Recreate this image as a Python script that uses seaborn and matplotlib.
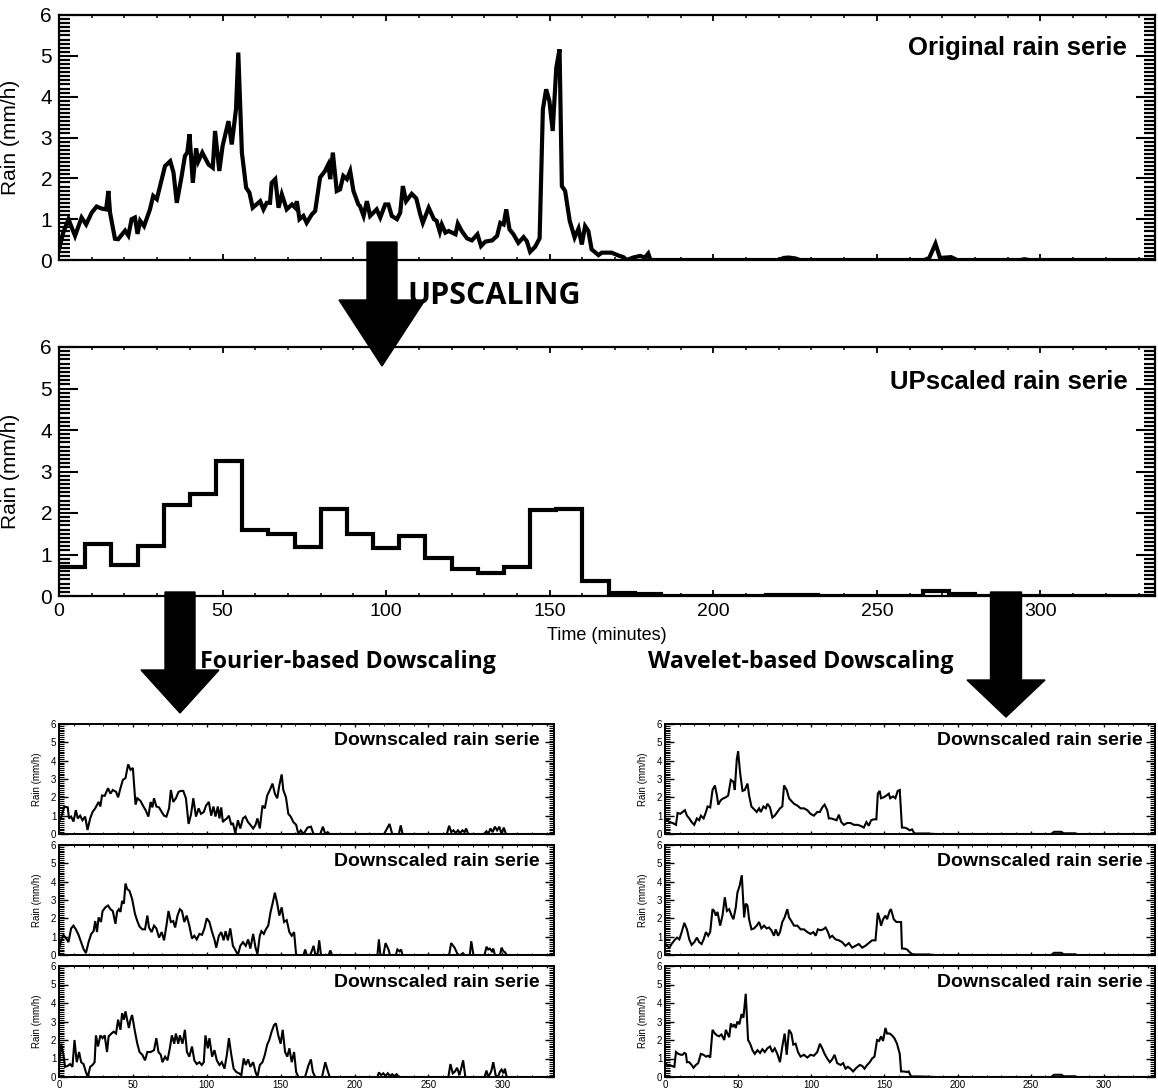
import numpy as np
import matplotlib
matplotlib.use("Agg")
import matplotlib.pyplot as plt
import seaborn as sns
from matplotlib.patches import Polygon
from matplotlib.ticker import MultipleLocator

# ---------------- data ----------------
orig_t = [0, 1.3, 2.9, 4.9, 6.9, 8.3, 10, 11.5, 13, 14.4, 15.1, 15.6, 17.1, 18.1, 20.2, 21.2, 22.2, 23.2, 24, 24.8,
          26, 27.8, 28.8, 29.9, 30.9, 32.4, 34, 35, 36, 37.5, 38.5, 39.2, 39.9, 40.9, 41.9, 42.6, 43.8, 45.7, 47, 47.7,
          49, 50, 51.8, 52.8, 54.1, 54.8, 55.9, 57.2, 58.2, 59.2, 61.5, 62.5, 63.5, 64.5, 65, 66.1, 67.1, 68.1, 69.6, 71.2,
          72.2, 72.7, 73.5, 74.7, 75.7, 77.3, 78.3, 79.8, 81.3, 82.3, 82.9, 83.7, 84.9, 85.9, 86.9, 88, 89, 90, 91.5, 92,
          93.1, 94.1, 95.1, 97.1, 98.2, 99.7, 100.7, 101.7, 103.3, 104.3, 105.1, 106.1, 107.8, 109.2, 110.4, 111.2, 113, 114.6, 115.4, 116.4,
          117, 118.1, 119.1, 121.2, 121.9, 123.1, 124.7, 126.2, 127.9, 129, 130.3, 132.4, 133.9, 134.9, 135.9, 136.7, 137.7, 138.9, 140.4, 142,
          143, 144, 145.5, 146.9, 147.9, 148.9, 149.9, 150.9, 152, 153, 153.7, 154.7, 156.1, 157.6, 158.8, 159.8, 160.8, 161.8, 162.8, 164.9,
          165.9, 168.9, 171, 172.5, 173.5, 175.5, 177.6, 179.1, 180.1, 180.8, 220, 221.5, 223, 225, 226.5, 264.5, 266, 267.9, 269.3, 271,
          272.7, 274.5, 294, 295, 296.5, 335]
orig_v = [0.26, 0.67, 1.0, 0.59, 1.04, 0.87, 1.16, 1.31, 1.26, 1.24, 1.69, 1.16, 0.52, 0.51, 0.72, 0.6, 1.0, 1.04, 0.64, 0.96,
          0.83, 1.24, 1.57, 1.49, 1.81, 2.3, 2.42, 2.14, 1.40, 2.06, 2.55, 2.63, 3.08, 1.89, 2.73, 2.42, 2.63, 2.34, 2.26, 3.16,
          2.18, 2.79, 3.40, 2.83, 3.69, 5.08, 2.63, 1.77, 1.65, 1.28, 1.44, 1.24, 1.40, 1.40, 1.89, 1.98, 1.28, 1.61, 1.24, 1.36,
          1.28, 1.44, 1.0, 1.08, 0.91, 1.12, 1.20, 2.02, 2.18, 2.34, 1.98, 2.63, 1.69, 1.73, 2.06, 1.98, 2.18, 1.69, 1.36, 1.32,
          1.08, 1.44, 1.08, 1.24, 1.04, 1.36, 1.36, 1.08, 1.0, 1.16, 1.81, 1.44, 1.62, 1.51, 1.12, 0.91, 1.28, 1.0, 0.96, 0.69,
          0.87, 0.67, 0.71, 0.63, 0.89, 0.71, 0.53, 0.48, 0.63, 0.34, 0.45, 0.48, 0.59, 0.91, 0.87, 1.24, 0.75, 0.63, 0.42, 0.56,
          0.46, 0.20, 0.32, 0.53, 3.69, 4.18, 3.89, 3.16, 4.71, 5.16, 1.81, 1.69, 0.96, 0.55, 0.77, 0.38, 0.83, 0.71, 0.26, 0.12,
          0.18, 0.18, 0.11, 0.07, 0.0, 0.06, 0.10, 0.06, 0.16, 0.0, 0.0, 0.05, 0.06, 0.04, 0.0, 0.0, 0.05, 0.40, 0.05, 0.06,
          0.07, 0.0, 0.0, 0.02, 0.0, 0.0]

up_start = [0, 8, 16, 24, 32, 40, 48, 56, 64, 72, 80, 88, 96, 104, 112, 120, 128, 136, 144, 152,
            160, 168, 176, 184, 216, 232, 264, 272, 280]
up_val = [0.70, 1.25, 0.74, 1.21, 2.19, 2.46, 3.26, 1.59, 1.50, 1.19, 2.10, 1.50, 1.15, 1.44, 0.92, 0.66, 0.55, 0.71, 2.07, 2.10,
          0.37, 0.08, 0.06, 0.0, 0.02, 0.0, 0.12, 0.04, 0.0]

f1_t = [0, 1.8, 3.6, 5.9, 6.8, 8.2, 9.8, 11.4, 12.7, 14.3, 15.9, 17.7, 19.3, 21.1, 22.7, 24.5, 26.8, 28, 29.1, 30.9,
        33.2, 34.8, 36.4, 38.6, 40, 41.6, 43.2, 45, 46.8, 48.4, 50, 51.8, 53, 55.2, 56.8, 58.6, 60.5, 62, 63.2, 64.3,
        65.9, 67.7, 69.5, 71.1, 72.7, 74.5, 75.7, 77.3, 79.1, 80.9, 82.5, 84.1, 85.9, 87.7, 89.3, 90.9, 92.7, 94.5, 96.1, 98,
        99.5, 101.4, 103, 104.5, 105.9, 107.5, 108.6, 109.8, 110.9, 112, 113.6, 115, 116.6, 117.7, 119.3, 121.1, 122.7, 124.5, 126.1, 127.9,
        129.5, 131.4, 133, 134.3, 135.9, 137.7, 139.3, 140.9, 142.7, 144.5, 146.1, 147.7, 149.1, 150.7, 151.8, 153.6, 155.2, 156.8, 158.6, 160.5,
        162, 163.6, 165.5, 168.2, 170.5, 172.3, 176.8, 178.6, 180.2, 181.8, 183.2, 220, 222, 223.7, 225.5, 230, 231.3, 232.5, 262.5, 264,
        265.5, 267, 268.5, 270, 271.5, 273, 274.5, 275.5, 277, 287.5, 289.3, 290.5, 292, 293.5, 295, 296.5, 298, 299.5, 301, 302.5, 335]
f1_v = [0.68, 1.0, 1.5, 1.45, 0.85, 0.95, 0.68, 1.3, 0.85, 1.0, 0.75, 0.95, 0.22, 0.85, 1.2, 1.4, 1.75, 1.5, 2.1, 2.08,
        2.5, 2.2, 2.4, 2.3, 2.0, 2.5, 2.95, 3.05, 3.8, 3.5, 3.6, 1.6, 1.95, 1.8, 1.55, 1.3, 0.95, 1.75, 1.45, 1.95,
        1.5, 1.45, 1.2, 1.0, 0.95, 1.4, 2.4, 1.75, 1.95, 2.3, 2.35, 2.35, 1.95, 0.55, 1.05, 1.95, 0.95, 1.4, 1.1, 1.2,
        1.55, 1.75, 1.0, 1.5, 0.95, 1.5, 0.85, 1.45, 0.65, 0.75, 0.85, 1.0, 0.5, 0.6, 0.05, 0.75, 0.3, 0.85, 0.95, 0.65,
        0.5, 0.3, 0.5, 0.85, 0.3, 1.55, 1.4, 2.1, 2.4, 2.75, 2.2, 1.95, 2.65, 3.25, 2.4, 2.0, 1.1, 0.95, 0.65, 0.5,
        0.0, 0.2, 0.0, 0.35, 0.4, 0.0, 0.0, 0.4, 0.0, 0.1, 0.0, 0.0, 0.3, 0.55, 0.0, 0.0, 0.47, 0.0, 0.0, 0.45,
        0.1, 0.2, 0.05, 0.2, 0.05, 0.2, 0.1, 0.3, 0.0, 0.0, 0.15, 0.0, 0.3, 0.1, 0.4, 0.2, 0.4, 0.0, 0.35, 0.0, 0.0]

f2_t = [0, 1.4, 3, 4.5, 6.4, 8.2, 9.8, 11.4, 13.2, 15, 16.6, 18.2, 20, 21.8, 23.4, 24.5, 25.7, 26.8, 28.4, 29.5,
        31.4, 33.2, 34.8, 36.4, 38.2, 39.3, 40.5, 41.6, 42.7, 43.9, 45, 46.1, 47.7, 49.5, 51.4, 53, 54.5, 56.4, 58.2, 59.8,
        60.9, 62.7, 64.3, 65.9, 67.7, 69.5, 71.1, 72.7, 74.1, 75.7, 77.3, 78.6, 80.2, 81.8, 83.2, 84.8, 86.4, 88.2, 90, 91.6,
        93.2, 95, 96.8, 98.4, 100, 101.8, 103.6, 105.2, 106.4, 108.2, 109.8, 111.4, 112.7, 114.3, 115.9, 117.7, 119.5, 121.1, 122.7, 124.5,
        126.4, 128, 129.5, 131.4, 133, 134.3, 135.9, 137, 138.6, 140, 141.6, 143.2, 144.5, 146.1, 147.7, 149.1, 150.7, 152.3, 154.1, 155.9,
        157.5, 159.1, 160.5, 165.5, 166.6, 167.7, 170, 171.2, 172.3, 173.4, 175, 176.1, 177.3, 182.5, 183.6, 184.8, 215.5, 216.5, 217.5, 219.5,
        221, 223, 224, 228, 229, 230.5, 231.5, 232.5, 264, 265.4, 267.7, 270, 271.5, 273.4, 274.5, 278, 279, 280.5, 288, 289.3,
        290.5, 291.5, 293, 293.9, 295, 298.5, 299.5, 300.8, 301.8, 303, 335]
f2_v = [0.33, 0.8, 1.1, 0.95, 0.7, 1.45, 1.6, 1.4, 1.1, 0.7, 0.33, 0.1, 0.7, 1.15, 1.3, 1.85, 1.25, 2.05, 1.8, 2.4,
        2.6, 2.7, 2.5, 2.4, 1.7, 2.35, 2.5, 2.35, 2.95, 2.8, 3.9, 3.6, 3.5, 3.05, 2.25, 1.85, 1.55, 1.4, 1.4, 2.15,
        1.5, 1.25, 1.6, 1.45, 0.95, 1.25, 0.8, 1.6, 2.4, 1.8, 1.85, 1.5, 2.15, 2.5, 2.4, 1.8, 2.15, 1.6, 0.9, 1.05,
        0.85, 1.15, 1.1, 1.45, 2.0, 1.8, 1.25, 0.85, 0.4, 1.05, 1.25, 0.8, 1.3, 0.8, 1.45, 0.5, 0.25, 0.0, 0.5, 0.7,
        0.5, 0.85, 0.35, 1.15, 0.4, 0.05, 1.05, 1.3, 1.15, 1.4, 1.6, 2.35, 2.8, 3.4, 2.8, 2.15, 2.6, 1.8, 1.9, 1.25,
        1.05, 1.25, 0.0, 0.0, 0.3, 0.0, 0.0, 0.25, 0.5, 0.05, 0.05, 0.8, 0.0, 0.0, 0.25, 0.0, 0.0, 0.85, 0.0, 0.0,
        0.65, 0.3, 0.0, 0.0, 0.3, 0.2, 0.3, 0.0, 0.0, 0.65, 0.4, 0.0, 0.0, 0.1, 0.0, 0.0, 0.75, 0.0, 0.0, 0.45,
        0.3, 0.35, 0.2, 0.35, 0.0, 0.0, 0.4, 0.2, 0.15, 0.0, 0.0]

f3_t = [0, 1.4, 3, 4.1, 5.9, 7.5, 9.1, 10.5, 12, 13.6, 15, 16.6, 18.2, 19.5, 21.1, 22.7, 24.1, 25, 26.4, 28,
        29.5, 30.9, 32.5, 33.6, 35.5, 37, 38.6, 40, 41.6, 42.7, 43.9, 45, 46.1, 47.3, 48.4, 49.5, 51.4, 53, 54.5, 56.4,
        58.2, 59.8, 62, 64.3, 65.9, 67.3, 68.9, 70, 71.8, 73.4, 75, 76.4, 78, 79.1, 80.7, 81.8, 83.6, 85.2, 86.6, 88.2,
        90, 91.6, 93.2, 95, 96.6, 98, 99.1, 100.7, 101.8, 103.6, 105.2, 106.8, 108.6, 110.2, 112, 113.6, 115, 116.6, 118.2, 120,
        121.8, 123.4, 125, 126.4, 128, 129.5, 131.4, 133, 134.3, 135.9, 137.7, 139.3, 140.9, 142.3, 143.9, 145.5, 146.8, 148.4, 150, 151.4,
        153, 154.5, 155.9, 157.5, 159.1, 160.5, 162, 166.5, 168.9, 170.5, 171.8, 173.4, 178, 180.2, 181.8, 183.2, 215.5, 216.5, 218, 219.5,
        221, 222.5, 224, 225.5, 227, 228.5, 230, 263.5, 264.9, 266.5, 268, 269.4, 271, 272.3, 273.5, 275, 288, 289.3, 290.5, 292.5,
        293.9, 295.5, 297, 298.5, 299.5, 300.8, 301.8, 303, 335]
f3_v = [0.55, 1.8, 1.2, 0.55, 0.6, 0.7, 0.55, 2.0, 0.8, 1.35, 0.8, 0.7, 0.27, 0.0, 0.55, 0.65, 0.8, 2.25, 1.65, 2.25,
        2.1, 2.25, 1.35, 2.2, 2.35, 2.45, 2.35, 3.1, 2.55, 3.45, 3.1, 3.55, 3.1, 2.65, 3.1, 3.35, 2.45, 1.8, 1.35, 1.2,
        0.9, 1.35, 1.35, 1.45, 2.1, 1.35, 1.2, 0.8, 1.1, 0.9, 1.55, 2.25, 1.8, 2.35, 1.8, 2.25, 1.8, 2.55, 1.35, 1.1,
        1.65, 0.9, 0.7, 0.8, 0.65, 0.8, 2.25, 1.55, 2.1, 1.1, 1.45, 0.9, 0.65, 0.8, 0.45, 1.2, 2.1, 1.2, 0.45, 0.27,
        0.2, 0.1, 1.0, 0.65, 0.95, 0.55, 0.8, 0.27, 0.0, 0.65, 0.8, 1.2, 1.75, 2.0, 2.45, 2.8, 2.9, 2.25, 1.8, 2.55,
        1.35, 1.1, 1.55, 0.8, 1.35, 0.27, 0.0, 0.0, 0.65, 0.95, 0.27, 0.0, 0.0, 0.8, 0.35, 0.0, 0.0, 0.25, 0.1, 0.2,
        0.05, 0.2, 0.05, 0.15, 0.05, 0.15, 0.0, 0.0, 0.7, 0.2, 0.3, 0.5, 0.1, 0.5, 0.9, 0.0, 0.0, 0.35, 0.0, 0.3,
        0.8, 0.1, 0.0, 0.3, 0.4, 0.2, 0.45, 0.0, 0.0]

w1_t = [0, 1.4, 3, 5.2, 7.5, 8.6, 10.5, 12, 13.6, 15, 16.6, 18.2, 20, 21.8, 23.4, 24.5, 26.4, 28, 29.1, 30.9,
        32.5, 34.1, 35.5, 36.4, 38.2, 40, 41.6, 43.2, 45, 46.8, 47.7, 49.1, 50, 51.4, 53, 54.5, 56.4, 57.5, 59.1, 60.9,
        62.7, 64.3, 65.5, 67.3, 68.9, 70, 71.8, 73.4, 75, 76.8, 78.6, 80.2, 81.4, 83.2, 84.8, 86.4, 88.2, 90.5, 92.7, 95,
        97.3, 99.5, 101.8, 104.1, 105.9, 107.5, 109.1, 110.9, 112, 113.6, 115.5, 117.3, 118.9, 120.5, 122.3, 124.5, 126.8, 129.1, 131.4, 133.6,
        135.9, 137.7, 139.3, 140.9, 142.7, 144.5, 145.5, 146.8, 147.7, 149.5, 151.4, 153, 154, 155.9, 157.5, 159.1, 160.5, 162, 163.6, 165.5,
        167.3, 168.9, 170.5, 174.5, 179, 184.8, 264, 266, 271, 272.5, 280, 282, 335]
w1_v = [0.8, 0.75, 0.65, 0.6, 0.5, 1.15, 1.1, 1.2, 1.3, 1.0, 0.85, 0.65, 0.5, 0.85, 0.75, 1.0, 0.85, 1.2, 1.5, 1.45,
        2.4, 2.65, 2.1, 1.6, 1.85, 1.95, 2.0, 2.1, 2.95, 2.85, 2.4, 4.1, 4.5, 3.3, 2.35, 2.4, 2.75, 2.1, 1.5, 1.35,
        1.2, 1.4, 1.2, 1.5, 1.4, 1.65, 1.45, 0.9, 1.0, 1.2, 1.4, 1.5, 2.65, 2.4, 1.95, 1.8, 1.65, 1.55, 1.4, 1.4,
        1.3, 1.1, 1.0, 1.2, 1.2, 1.45, 1.6, 1.3, 0.85, 0.85, 0.8, 0.75, 1.05, 0.65, 0.5, 0.6, 0.6, 0.5, 0.5, 0.45,
        0.35, 0.65, 0.45, 0.75, 0.8, 0.8, 2.2, 2.35, 1.95, 2.0, 2.1, 2.2, 1.95, 2.05, 1.95, 2.35, 2.4, 0.35, 0.35, 0.3,
        0.2, 0.25, 0.03, 0.03, 0.03, 0.0, 0.0, 0.12, 0.12, 0.04, 0.04, 0.0, 0.0]

w2_t = [0, 1.4, 3, 4.5, 6.4, 8.2, 9.8, 11.4, 13.2, 15, 16.6, 18.2, 20, 21.8, 23.4, 25, 26.4, 28, 29.5, 30.9,
        32.5, 33.6, 34.8, 35.9, 37.7, 39.3, 40.9, 42.3, 43.9, 45.5, 46.8, 48.4, 49.5, 51.1, 52.5, 54.1, 55.2, 56.4, 57.5, 59.1,
        60.9, 62.7, 64.3, 65.9, 67.7, 69.5, 71.1, 72.7, 74.5, 75.7, 77.3, 78.6, 80.2, 81.8, 83.6, 84.8, 86.4, 88.2, 90.5, 92.7,
        95, 97.3, 99.5, 101.4, 103, 104.5, 106.4, 108.2, 109.8, 111.4, 112.7, 114.3, 116.6, 118.9, 121.1, 123.4, 125.7, 128, 130.2, 132.5,
        134.8, 137, 139.3, 141.6, 143.9, 145.5, 146.8, 147.7, 149.1, 150.7, 151.8, 153.6, 154.5, 156.4, 158.2, 159.8, 161.4, 162, 163.6, 165.5,
        167.3, 168.9, 170.5, 180, 184.8, 264, 266, 271, 272.5, 280, 282, 335]
w2_v = [0.65, 0.5, 0.4, 0.6, 0.8, 0.95, 0.85, 1.25, 1.75, 1.4, 0.85, 0.55, 0.7, 0.95, 0.7, 0.6, 0.85, 1.25, 1.05, 1.25,
        2.5, 2.4, 2.15, 2.35, 1.6, 2.15, 3.15, 2.4, 2.5, 2.15, 1.95, 2.6, 3.4, 3.8, 4.35, 2.05, 2.8, 2.7, 1.95, 1.4,
        1.45, 1.6, 1.8, 1.45, 1.6, 1.45, 1.5, 1.35, 1.05, 1.4, 1.05, 1.25, 1.8, 2.05, 2.5, 2.05, 1.85, 1.6, 1.6, 1.4,
        1.4, 1.25, 1.15, 1.25, 1.05, 1.4, 1.35, 1.4, 1.5, 1.25, 0.95, 1.05, 0.85, 0.8, 0.7, 0.5, 0.65, 0.4, 0.5, 0.6,
        0.4, 0.5, 0.65, 0.8, 0.8, 2.3, 1.95, 1.6, 1.95, 2.15, 1.95, 2.4, 2.5, 1.95, 1.8, 1.8, 1.8, 0.35, 0.35, 0.3,
        0.15, 0.05, 0.03, 0.03, 0.0, 0.0, 0.12, 0.12, 0.04, 0.04, 0.0, 0.0]

w3_t = [0, 1.4, 3, 4.5, 6.4, 7.5, 9.1, 10.9, 12, 13.2, 14.3, 15, 16.6, 18.2, 19.5, 21.1, 22.7, 24.5, 26.4, 28,
        29.5, 30.9, 32.5, 34.1, 35.5, 37, 38.6, 40.5, 41.6, 42.7, 43.9, 45, 46.1, 47.3, 48.4, 49.5, 50.9, 52.3, 53.6, 55.2,
        56.8, 58.2, 59.8, 61.4, 63.2, 65, 66.6, 68.2, 70, 71.8, 73.4, 75, 76.8, 78.6, 80.2, 81.8, 83.2, 84.8, 86.4, 87.7,
        89.3, 90.9, 92.7, 95, 97.3, 99.5, 101.8, 104.1, 105.9, 107.5, 109.1, 110.9, 112.7, 114.3, 115.9, 117.7, 120, 121.8, 123.4, 125,
        126.8, 128.6, 130.9, 133.2, 134.8, 136.4, 138.2, 140, 141.6, 143.2, 145, 146.4, 147.7, 149.1, 150.7, 151.8, 153.6, 155.2, 156.8, 158.6,
        160.5, 161.4, 163.2, 165.5, 166.6, 168.2, 173.4, 179, 184.8, 264, 266, 271, 272.5, 280, 282, 335]
w3_v = [0.8, 0.65, 0.65, 0.6, 0.55, 1.35, 1.25, 1.2, 1.2, 1.3, 1.25, 0.8, 0.8, 0.65, 0.5, 0.65, 0.75, 1.25, 1.2, 1.1,
        1.15, 1.05, 2.55, 2.35, 2.25, 2.2, 2.3, 2.0, 2.55, 2.35, 2.15, 2.9, 2.7, 2.85, 2.65, 3.0, 2.85, 3.4, 3.2, 4.5,
        2.0, 1.8, 1.45, 1.25, 1.45, 1.3, 1.5, 1.35, 1.55, 1.65, 1.35, 1.55, 1.25, 0.8, 1.65, 2.35, 1.2, 2.55, 2.35, 1.75,
        1.8, 1.35, 1.1, 1.2, 1.05, 1.2, 1.15, 1.35, 1.8, 1.55, 1.25, 1.0, 0.8, 0.95, 1.2, 0.75, 0.65, 0.75, 0.45, 0.55,
        0.45, 0.3, 0.5, 0.65, 0.6, 0.45, 0.65, 0.8, 1.0, 1.1, 2.0, 1.95, 2.2, 1.95, 2.65, 2.35, 2.35, 2.25, 2.1, 1.8,
        1.25, 0.3, 0.3, 0.27, 0.3, 0.03, 0.03, 0.02, 0.0, 0.0, 0.12, 0.12, 0.04, 0.04, 0.0, 0.0]

ytick_vals = [0, 1, 2, 3, 4, 5, 6]
xtick_vals = [0, 50, 100, 150, 200, 250, 300]

# ---------------- figure ----------------
sns.set_style("white")
plt.rcParams['font.family'] = ['Liberation Sans', 'DejaVu Sans']
plt.rcParams.update({'text.color': 'black', 'axes.labelcolor': 'black', 'xtick.color': 'black',
                     'ytick.color': 'black', 'axes.edgecolor': 'black'})
W, H = 1158, 1088
fig = plt.figure(figsize=(W / 100, H / 100), dpi=100)


def add_ax(l, t, r, b):
    return fig.add_axes([l / W, 1 - b / H, (r - l) / W, (b - t) / H])


def style(ax, big, show_x):
    ax.set_xlim(0, 335)
    ax.set_ylim(0, 6)
    ax.set_yticks(ytick_vals)
    ax.set_xticks(xtick_vals)
    ax.xaxis.set_minor_locator(MultipleLocator(10))
    ax.yaxis.set_minor_locator(MultipleLocator(0.1))
    ax.tick_params(which='both', direction='in', top=True, right=True, bottom=True, left=True,
                   color='black', labelcolor='black')
    for s in ax.spines.values():
        s.set_visible(True)
        s.set_color('black')
        s.set_linewidth(1.6 if big else 1.4)
    if big:
        ax.tick_params(axis='y', which='major', length=14, width=1.5, labelsize=15, pad=5)
        ax.tick_params(axis='y', which='minor', length=8, width=1.6)
        ax.tick_params(axis='x', which='major', length=4, width=1.3, labelsize=14, pad=5)
        ax.tick_params(axis='x', which='minor', length=2.5, width=1.1)
    else:
        ax.tick_params(axis='y', which='major', length=6.5, width=1.0, labelsize=7, pad=2)
        ax.tick_params(axis='y', which='minor', length=3.5, width=0.8)
        ax.tick_params(axis='x', which='major', length=2.5, width=1.0, labelsize=7, pad=2)
        ax.tick_params(axis='x', which='minor', length=1.5, width=0.7)
    if not show_x:
        ax.tick_params(axis='x', labelbottom=False)
    ax.grid(False)


def line(ax, x, y, lw, **kw):
    sns.lineplot(x=x, y=y, ax=ax, color='black', linewidth=lw, sort=False, estimator=None,
                 legend=False, solid_joinstyle='miter', **kw)
    ax.set_xlabel('')
    ax.set_ylabel('')


# top: original
ax0 = add_ax(59, 15, 1155, 260)
line(ax0, orig_t, orig_v, 3.0)
style(ax0, True, False)
ax0.set_ylabel('Rain (mm/h)', fontsize=15)
ax0.yaxis.set_label_coords(-0.036, 0.5)
ax0.text(0.974, 0.865, 'Original rain serie', transform=ax0.transAxes, ha='right', va='center',
         fontsize=18.5, fontweight='bold')

# middle: upscaled
ax1 = add_ax(59, 347, 1155, 596)
up_x = np.append(up_start, 335)
up_y = np.append(up_val, up_val[-1])
line(ax1, up_x, up_y, 3.0, drawstyle='steps-post')
style(ax1, True, True)
ax1.set_ylabel('Rain (mm/h)', fontsize=15)
ax1.yaxis.set_label_coords(-0.036, 0.5)
ax1.set_xlabel('Time (minutes)', fontsize=13, labelpad=5)
ax1.text(0.975, 0.86, 'UPscaled rain serie', transform=ax1.transAxes, ha='right', va='center',
         fontsize=18.5, fontweight='bold')

# bottom panels
rows = [(724, 834), (845, 955), (966, 1077)]
left_series = [(f1_t, f1_v), (f2_t, f2_v), (f3_t, f3_v)]
right_series = [(w1_t, w1_v), (w2_t, w2_v), (w3_t, w3_v)]
for i, (top, bot) in enumerate(rows):
    for (l, r, ser, xr) in [(59, 554, left_series[i], 0.97), (665, 1155, right_series[i], 0.9755)]:
        ax = add_ax(l, top, r, bot)
        line(ax, ser[0], ser[1], 1.5)
        style(ax, False, i == 2)
        ax.set_ylabel('Rain (mm/h)', fontsize=7)
        ax.yaxis.set_label_coords(-0.034, 0.5)
        ax.text(xr, 0.85, 'Downscaled rain serie', transform=ax.transAxes, ha='right', va='center',
                fontsize=14, fontweight='bold')


# block arrows (decoration)
def arrow(cx, shaft_w, y0, y_head, head_w, y_tip):
    pts = [(cx - shaft_w / 2, y0), (cx + shaft_w / 2, y0), (cx + shaft_w / 2, y_head), (cx + head_w / 2, y_head),
           (cx, y_tip), (cx - head_w / 2, y_head), (cx - shaft_w / 2, y_head)]
    pts = [(x / W, 1 - y / H) for x, y in pts]
    fig.patches.append(Polygon(pts, closed=True, transform=fig.transFigure, facecolor='black',
                               edgecolor='black', zorder=5))


arrow(382, 30, 242, 300, 86, 366)
arrow(180, 30, 592, 670, 78, 713)
arrow(1006, 31, 592, 680, 78, 717)

fig.text(407 / W, 1 - 296 / H, 'UPSCALING', fontsize=22, fontweight='bold', family=['Open Sans', 'DejaVu Sans'],
         ha='left', va='center')
fig.text(200 / W, 1 - 662 / H, 'Fourier-based Dowscaling', fontsize=16.7, fontweight='bold',
         family=['Open Sans', 'DejaVu Sans'], ha='left', va='center')
fig.text(648 / W, 1 - 662 / H, 'Wavelet-based Dowscaling', fontsize=16.7, fontweight='bold',
         family=['Open Sans', 'DejaVu Sans'], ha='left', va='center')

fig.savefig('out.png', dpi=100, facecolor='white')
